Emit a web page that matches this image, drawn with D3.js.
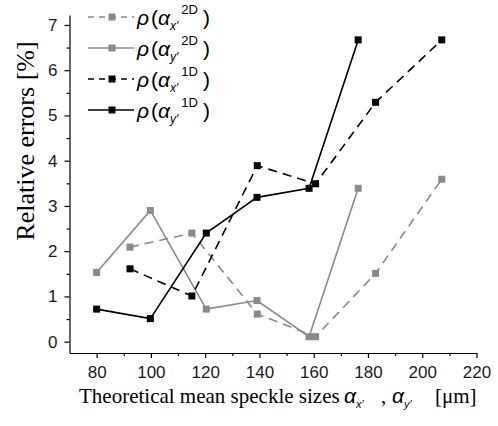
<!DOCTYPE html>
<html>
<head>
<meta charset="utf-8">
<script src="https://cdn.jsdelivr.net/npm/d3@7"></script>
<style>
  body { margin: 0; background: #fff; }
  svg { display: block; }
</style>
</head>
<body>
<svg width="498" height="426"></svg>
<script>
// speckle sizes (um) along x' and y'
var sizesX = [92.3, 115.1, 139.2, 160.7, 182.8, 207.2];
var sizesY = [80, 99.8, 120.4, 139.1, 158.3, 176.4];

// relative errors (%)
var rhoX2D = [2.09, 2.40, 0.61, 0.11, 1.51, 3.59];
var rhoY2D = [1.53, 2.90, 0.72, 0.91, 0.11, 3.39];
var rhoX1D = [1.61, 1.01, 3.89, 3.49, 5.29, 6.67];
var rhoY1D = [0.72, 0.51, 2.40, 3.19, 3.39, 6.67];

var xTicks = [80, 100, 120, 140, 160, 180, 200, 220];
var yTicks = [0, 1, 2, 3, 4, 5, 6, 7];

var gray = '#8a8a8a';
var series = [
  {sub: 'x′', sup: '2D', xs: sizesX, ys: rhoX2D, color: gray, dash: '9,6'},
  {sub: 'y′', sup: '2D', xs: sizesY, ys: rhoY2D, color: gray, dash: null},
  {sub: 'x′', sup: '1D', xs: sizesX, ys: rhoX1D, color: '#000', dash: '9,6'},
  {sub: 'y′', sup: '1D', xs: sizesY, ys: rhoY1D, color: '#000', dash: null}
];

var svg = d3.select('svg');
var x = d3.scaleLinear().domain([70, 220]).range([69.5, 476.5]);
var y = d3.scaleLinear().domain([-0.25, 7.22]).range([353, 15]);

var sans = 'Liberation Sans, Arial, sans-serif';
var serif = 'Liberation Serif, Times New Roman, serif';

// minor ticks
svg.append('g')
  .attr('transform', 'translate(0,353)')
  .call(d3.axisBottom(x).tickValues(d3.range(90, 220, 20)).tickSize(3).tickSizeOuter(0).tickFormat(''))
  .call(function(g) { g.select('.domain').remove(); });
svg.append('g')
  .attr('transform', 'translate(69.5,0)')
  .call(d3.axisLeft(y).tickValues(d3.range(0.5, 7, 1)).tickSize(3).tickSizeOuter(0).tickFormat(''))
  .call(function(g) { g.select('.domain').remove(); });

// major axes
svg.append('g')
  .attr('transform', 'translate(0,353)')
  .call(d3.axisBottom(x).tickValues(xTicks).tickSize(5).tickSizeOuter(0).tickPadding(8));
svg.append('g')
  .attr('transform', 'translate(69.5,0)')
  .call(d3.axisLeft(y).tickValues(yTicks).tickSize(5).tickSizeOuter(0).tickPadding(7));

svg.selectAll('.tick text').attr('font-family', sans).attr('font-size', 17).attr('fill', '#1a1a1a');
svg.selectAll('.domain, .tick line').attr('stroke', '#000').attr('stroke-width', 1.2);

// lines and markers
var line = d3.line().x(function(d) { return x(d[0]); }).y(function(d) { return y(d[1]); });

series.forEach(function(s) {
  var pts = d3.zip(s.xs, s.ys);
  svg.append('path')
    .datum(pts)
    .attr('d', line)
    .attr('fill', 'none')
    .attr('stroke', s.color)
    .attr('stroke-width', 1.6)
    .attr('stroke-dasharray', s.dash);
  svg.selectAll(null)
    .data(pts)
    .enter()
    .append('rect')
    .attr('x', function(d) { return x(d[0]) - 3.5; })
    .attr('y', function(d) { return y(d[1]) - 3.5; })
    .attr('width', 7)
    .attr('height', 7)
    .attr('fill', s.color);
});

// legend
var legend = svg.append('g');
series.forEach(function(s, i) {
  var ly = 17 + i * 31;
  legend.append('line')
    .attr('x1', 88).attr('x2', 134).attr('y1', ly).attr('y2', ly)
    .attr('stroke', s.color).attr('stroke-width', 1.6)
    .attr('stroke-dasharray', s.dash ? '6,5' : null);
  legend.append('rect')
    .attr('x', 108.5).attr('y', ly - 3.5).attr('width', 7).attr('height', 7)
    .attr('fill', s.color);
  var t = legend.append('text')
    .attr('x', 137).attr('y', ly + 8)
    .attr('font-family', sans).attr('font-size', 21).attr('fill', '#000');
  t.append('tspan').attr('font-style', 'italic').text('ρ');
  t.append('tspan').attr('dx', 2).text('(');
  t.append('tspan').attr('font-style', 'italic').text('α');
  t.append('tspan').attr('font-style', 'italic').attr('font-size', 12).attr('dy', 5).text(s.sub);
  t.append('tspan').attr('font-size', 13).attr('dx', 3).attr('dy', -16).text(s.sup);
  t.append('tspan').attr('dx', 5).attr('dy', 11).text(')');
});

// axis titles
svg.append('text')
  .attr('transform', 'translate(34,141) rotate(-90)')
  .attr('text-anchor', 'middle')
  .attr('font-family', serif).attr('font-size', 26)
  .text('Relative errors [%]');

var xt = svg.append('text')
  .attr('x', 79).attr('y', 403)
  .attr('font-family', serif).attr('font-size', 21);
xt.append('tspan').text('Theoretical mean speckle sizes');
xt.append('tspan').attr('x', 344).attr('font-family', sans).attr('font-style', 'italic').text('α');
xt.append('tspan').attr('font-family', sans).attr('font-style', 'italic').attr('font-size', 11).attr('dy', 5).text('x′');
xt.append('tspan').attr('x', 381).attr('dy', -5).text(',');
xt.append('tspan').attr('x', 392).attr('font-family', sans).attr('font-style', 'italic').text('α');
xt.append('tspan').attr('font-family', sans).attr('font-style', 'italic').attr('font-size', 11).attr('dy', 5).text('y′');
xt.append('tspan').attr('x', 435).attr('dy', -5).text('[μm]');
</script>
</body>
</html>
